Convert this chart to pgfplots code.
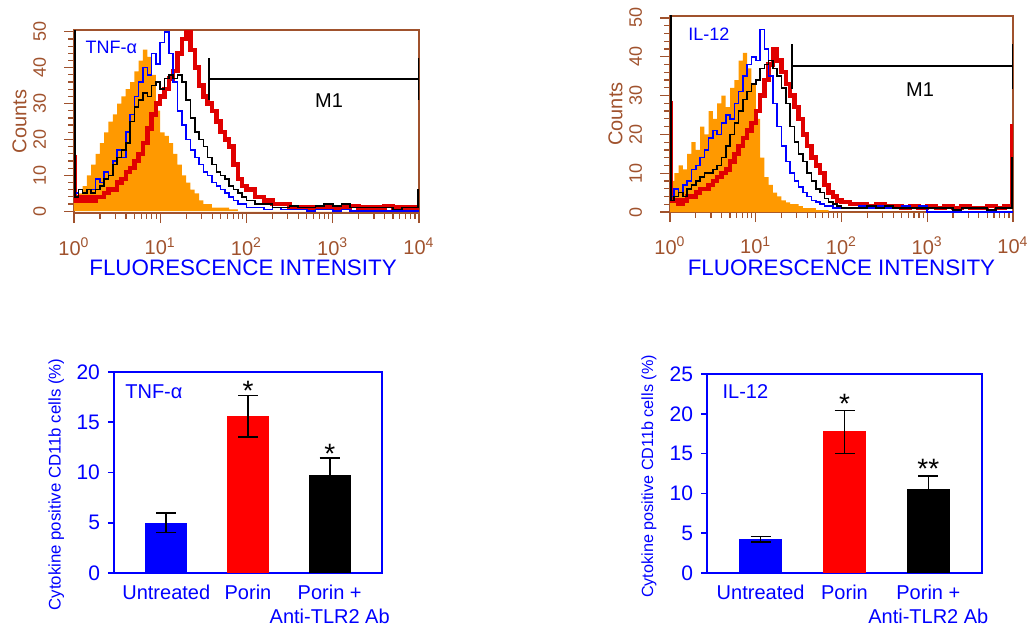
\documentclass[border=0pt]{standalone}
\usepackage{fontspec}
\setmainfont{Liberation Sans}
\usepackage{pgfplots}
\usepackage{pgfplotstable}
\pgfplotsset{compat=1.18}

\definecolor{brn}{HTML}{A0522D}
\definecolor{org}{HTML}{FF9900}
\definecolor{rd}{HTML}{E00000}
\definecolor{bl}{HTML}{0000FF}

% histogram channels: x, orange (control), blue, black, red
\pgfplotstableread{
x      org  blu  blk  red
1      3    5    60   15
1.03   3    5    4    3
1.122  5    6    6    4
1.259  7    5    5    3
1.413  10   6    6    4
1.585  13   6    5    3
1.778  16   9    6    4
1.995  19   8    7    4
2.239  22   11   9    5
2.512  25   10   10   6
2.818  27   14   13   6
3.162  30   17   15   8
3.548  32   15   17   9
3.981  34   22   19   11
4.467  36   27   25   12
5.012  39   32   29   14
5.623  42   36   31   16
6.310  45   40   33   19
7.079  43   38   32   23
7.943  38   44   35   27
8.913  28   41   36   30
10     22   47   34   32
11.22  21   50   37   34
12.59  19   44   38   37
14.13  16   36   37   39
15.85  13   28   38   44
17.78  10   24   36   48
19.95  8    20   31   51
22.39  6    17   26   45
25.12  5    15   22   40
28.18  3    13   20   35
31.62  2    11   18   32
35.48  2    10   15   30
39.81  1    8    13   28
44.67  1    7    11   25
50.12  1    6    10   22
56.23  1    5    9    20
63.10  0.5  4    7    18
70.79  0.5  3    6    13
79.43  0    2    5    9
89.13  0    2    4    7
100    0    1    3    6
125.9  0    1    2    4
158.5  0    0.5  2    3
199.5  0    1    1    2
251.2  0    0.5  1    2
316.2  0    0.5  1.5  1
398.1  0    0.5  1    1
501.2  0    0    1    1
631.0  0    0.5  1.5  1
794.3  0    0.5  2    1
1000   0    0    1.5  1
1259   0    0.5  2    1
1585   0    0    1    1.5
1995   0    0    1    1
2512   0    0    1    1
3162   0    0    1    1
3981   0    0    1    1.5
5012   0    0    0.5  1
6310   0    0    1    1
7943   0    0    1    1
9750   0    0    6    1
10000  0    0    6    1
}\tnfhist

\pgfplotstableread{
x      org  blu  blk  red
1      10   5    60   28
1.03   8    4    3    3
1.122  10   6    4    3
1.259  12   5    5    2
1.413  11   7    4    3
1.585  15   8    6    4
1.778  18   11   7    4
1.995  16   12   8    5
2.239  22   14   9    6
2.512  20   16   10   6
2.818  26   19   10   7
3.162  24   21   11   8
3.548  28   20   12   9
3.981  30   23   14   10
4.467  27   25   17   11
5.012  32   24   20   13
5.623  34   28   23   15
6.310  39   31   26   17
7.079  41   35   29   19
7.943  37   38   31   21
8.913  33   40   33   23
10     24   39   34   26
11.22  14   47   37   30
12.59  9    42   38   34
14.13  7    35   39   38
15.85  5    28   37   42
17.78  4    22   35   39
19.95  3    17   32   36
22.39  2.5  13   28   33
25.12  2    10   22   30
28.18  2    8    18   27
31.62  1.5  6.5  15   24
35.48  1    5    13   20
39.81  1    4    10   17
44.67  1    3    8    14
50.12  0.5  2.5  6    12
56.23  0.5  2    5    10
63.10  0.5  1.5  3.5  7
70.79  0    1.5  2.5  5
79.43  0    1    2    4
89.13  0    1    1.5  3
100    0    1    1    2.5
125.9  0    1    1    2
158.5  0    1.5  1    2
199.5  0    1    1.5  1.5
251.2  0    1.5  1    2
316.2  0    1    1.5  1.5
398.1  0    1    1    1.5
501.2  0    1.5  1    1
631.0  0    1    1    1.5
794.3  0    1.5  1    1
1000   0    0    1    1.5
1259   0    0    1    1
1585   0    0    1    1.5
1995   0    0    0.5  1
2512   0    0    1    1.5
3162   0    0    1    1
3981   0    0    1    1
5012   0    0    0.5  1.5
6310   0    0    1    1
7943   0    0    1    1.5
9750   0    0    14   22
10000  0    0    14   22
}\ilhist

\newcommand{\hticks}{10\textsuperscript{0},10\textsuperscript{1},10\textsuperscript{2},10\textsuperscript{3},10\textsuperscript{4}}

\begin{document}
\begin{tikzpicture}
\path[use as bounding box] (0,0) rectangle (515pt,314.5pt);

% ---- TNF-alpha histogram
\begin{axis}[xmode=log, scale only axis,
  at={(37pt,208pt)}, anchor=south west,
  width=172.5pt, height=91.5pt,
  xmin=1, xmax=10000, ymin=-0.5, ymax=50.5,
  axis line style={brn, line width=0.6pt},
  tick style={brn, line width=0.6pt},
  tick align=outside, tick pos=left,
  major tick length=5pt, minor tick length=3pt,
  /pgf/number format/assume math mode=true,
  xtick={1,10,100,1000,10000}, xticklabels/.expand once=\hticks,
  minor xtick={2,3,4,5,6,7,8,9,20,30,40,50,60,70,80,90,200,300,400,500,600,700,800,900,2000,3000,4000,5000,6000,7000,8000,9000},
  xticklabel style={font=\fontsize{10}{12}\selectfont, text=brn, yshift=-4pt},
  ytick={0,10,20,30,40,50}, minor ytick={2,4,...,48},
  yticklabel style={font=\fontsize{9}{10}\selectfont, text=brn, rotate=90, anchor=south, yshift=5.5pt},
  xlabel={FLUORESCENCE INTENSITY},
  xlabel style={font=\fontsize{11.2}{13}\selectfont, text=bl, anchor=center, at={(axis description cs:0.49,-0.30)}},
  ylabel={Counts},
  ylabel style={font=\fontsize{10}{12}\selectfont, text=brn, anchor=center, at={(axis description cs:-0.158,0.5)}}]
\addplot[draw=none, fill=org, const plot] table[x=x, y=org] {\tnfhist} \closedcycle;
\addplot[rd, line width=2.2pt, const plot] table[x=x, y=red] {\tnfhist};
\addplot[bl, line width=0.8pt, const plot] table[x=x, y=blu] {\tnfhist};
\addplot[black, line width=0.8pt, const plot] table[x=x, y=blk] {\tnfhist};
\draw[black, line width=1pt] (axis cs:37.1,36.9) -- (axis cs:10000,36.9);
\draw[black, line width=1pt] (axis cs:37.1,31) -- (axis cs:37.1,42.7);
\draw[black, line width=1pt] (axis cs:10000,31) -- (axis cs:10000,42.7);
\node[font=\fontsize{10}{12}\selectfont] at (axis cs:905,30.7) {M1};
\node[font=\fontsize{9}{11}\selectfont, text=bl, anchor=west] at (rel axis cs:0.013,0.907) {TNF-α};
\end{axis}

% ---- IL-12 histogram
\begin{axis}[xmode=log, scale only axis,
  at={(335pt,208.5pt)}, anchor=south west,
  width=171.5pt, height=98pt,
  xmin=1, xmax=10000, ymin=0, ymax=50.5,
  axis line style={brn, line width=0.6pt},
  tick style={brn, line width=0.6pt},
  tick align=outside, tick pos=left,
  major tick length=5pt, minor tick length=3pt,
  /pgf/number format/assume math mode=true,
  xtick={1,10,100,1000,10000}, xticklabels/.expand once=\hticks,
  minor xtick={2,3,4,5,6,7,8,9,20,30,40,50,60,70,80,90,200,300,400,500,600,700,800,900,2000,3000,4000,5000,6000,7000,8000,9000},
  xticklabel style={font=\fontsize{10}{12}\selectfont, text=brn, yshift=-4pt},
  ytick={0,10,20,30,40,50}, minor ytick={2,4,...,48},
  yticklabel style={font=\fontsize{9}{10}\selectfont, text=brn, rotate=90, anchor=south, yshift=5.5pt},
  xlabel={FLUORESCENCE INTENSITY},
  xlabel style={font=\fontsize{11.2}{13}\selectfont, text=bl, anchor=center, at={(axis description cs:0.5,-0.286)}},
  ylabel={Counts},
  ylabel style={font=\fontsize{10}{12}\selectfont, text=brn, anchor=center, at={(axis description cs:-0.159,0.5)}}]
\addplot[draw=none, fill=org, const plot] table[x=x, y=org] {\ilhist} \closedcycle;
\addplot[rd, line width=2.2pt, const plot] table[x=x, y=red] {\ilhist};
\addplot[bl, line width=0.8pt, const plot] table[x=x, y=blu] {\ilhist};
\addplot[black, line width=0.8pt, const plot] table[x=x, y=blk] {\ilhist};
\draw[black, line width=1pt] (axis cs:26.3,37.5) -- (axis cs:10000,37.5);
\draw[black, line width=1pt] (axis cs:26.3,31.7) -- (axis cs:26.3,43.3);
\draw[black, line width=1pt] (axis cs:10000,31.7) -- (axis cs:10000,43.3);
\node[font=\fontsize{10}{12}\selectfont] at (axis cs:823,31.5) {M1};
\node[font=\fontsize{9}{11}\selectfont, text=bl, anchor=west] at (rel axis cs:0.033,0.908) {IL-12};
\end{axis}

% ---- TNF-alpha bars
\begin{axis}[scale only axis, at={(57pt,28pt)}, anchor=south west,
  width=134pt, height=100.5pt,
  xmin=-0.64, xmax=2.64, ymin=0, ymax=20, ytick={0,5,10,15,20},
  axis line style={bl, line width=1pt},
  xtick={0,1,2}, xticklabels={Untreated,Porin,{Porin +\\Anti-TLR2 Ab}},
  major x tick style={draw=none},
  xticklabel style={font=\fontsize{10}{12}\selectfont, text=bl, align=center, anchor=north, yshift=0.5pt},
  ytick pos=left, tick align=outside,
  major y tick style={bl, line width=0.8pt}, major tick length=3pt,
  yticklabel style={font=\fontsize{10.5}{12}\selectfont, text=bl, xshift=-0.5pt},
  /pgf/number format/assume math mode=true,
  ylabel={Cytokine positive CD11b cells (\%)},
  ylabel style={font=\fontsize{8.4}{10}\selectfont, text=bl, at={(axis description cs:-0.215,0.44)}, anchor=center}]
\addplot[ybar, bar width=21pt, bar shift=0pt, draw=none, fill=bl,
  error bars/.cd, y dir=both, y explicit, error bar style={black, line width=0.8pt},
  error mark options={rotate=90, black, mark size=5pt, line width=0.8pt}]
  coordinates {(0,5.0) +- (0,0.95)};
\addplot[ybar, bar width=21pt, bar shift=0pt, draw=none, fill=red,
  error bars/.cd, y dir=both, y explicit, error bar style={black, line width=0.8pt},
  error mark options={rotate=90, black, mark size=5pt, line width=0.8pt}]
  coordinates {(1,15.6) +- (0,2.05)};
\addplot[ybar, bar width=21pt, bar shift=0pt, draw=none, fill=black,
  error bars/.cd, y dir=both, y explicit, error bar style={black, line width=0.8pt},
  error mark options={rotate=90, black, mark size=5pt, line width=0.8pt}]
  coordinates {(2,9.75) +- (0,1.7)};
\node[font=\fontsize{14}{16}\selectfont] at (axis cs:1,18.1) {*};
\node[font=\fontsize{14}{16}\selectfont] at (axis cs:2,11.9) {*};
\node[font=\fontsize{10}{12}\selectfont, text=bl, anchor=west] at (rel axis cs:0.016,0.90) {TNF-α};
\end{axis}

% ---- IL-12 bars
\begin{axis}[scale only axis, at={(353.5pt,28pt)}, anchor=south west,
  width=137.5pt, height=99.5pt,
  xmin=-0.64, xmax=2.64, ymin=0, ymax=25, ytick={0,5,10,15,20,25},
  axis line style={bl, line width=1pt},
  xtick={0,1,2}, xticklabels={Untreated,Porin,{Porin +\\Anti-TLR2 Ab}},
  major x tick style={draw=none},
  xticklabel style={font=\fontsize{10}{12}\selectfont, text=bl, align=center, anchor=north, yshift=0.5pt},
  ytick pos=left, tick align=outside,
  major y tick style={bl, line width=0.8pt}, major tick length=3pt,
  yticklabel style={font=\fontsize{10.5}{12}\selectfont, text=bl, xshift=-0.5pt},
  /pgf/number format/assume math mode=true,
  ylabel={Cytokine positive CD11b cells (\%)},
  ylabel style={font=\fontsize{8.1}{10}\selectfont, text=bl, at={(axis description cs:-0.211,0.485)}, anchor=center}]
\addplot[ybar, bar width=21.5pt, bar shift=0pt, draw=none, fill=bl,
  error bars/.cd, y dir=both, y explicit, error bar style={black, line width=0.8pt},
  error mark options={rotate=90, black, mark size=5pt, line width=0.8pt}]
  coordinates {(0,4.25) +- (0,0.32)};
\addplot[ybar, bar width=21.5pt, bar shift=0pt, draw=none, fill=red,
  error bars/.cd, y dir=both, y explicit, error bar style={black, line width=0.8pt},
  error mark options={rotate=90, black, mark size=5pt, line width=0.8pt}]
  coordinates {(1,17.9) += (0,2.5) -= (0,2.9)};
\addplot[ybar, bar width=21.5pt, bar shift=0pt, draw=none, fill=black,
  error bars/.cd, y dir=both, y explicit, error bar style={black, line width=0.8pt},
  error mark options={rotate=90, black, mark size=5pt, line width=0.8pt}]
  coordinates {(2,10.6) +- (0,1.6)};
\node[font=\fontsize{14}{16}\selectfont] at (axis cs:1,21.3) {*};
\node[font=\fontsize{14}{16}\selectfont] at (axis cs:2,13.1) {**};
\node[font=\fontsize{10}{12}\selectfont, text=bl, anchor=west] at (rel axis cs:0.031,0.91) {IL-12};
\end{axis}
\end{tikzpicture}
\end{document}
